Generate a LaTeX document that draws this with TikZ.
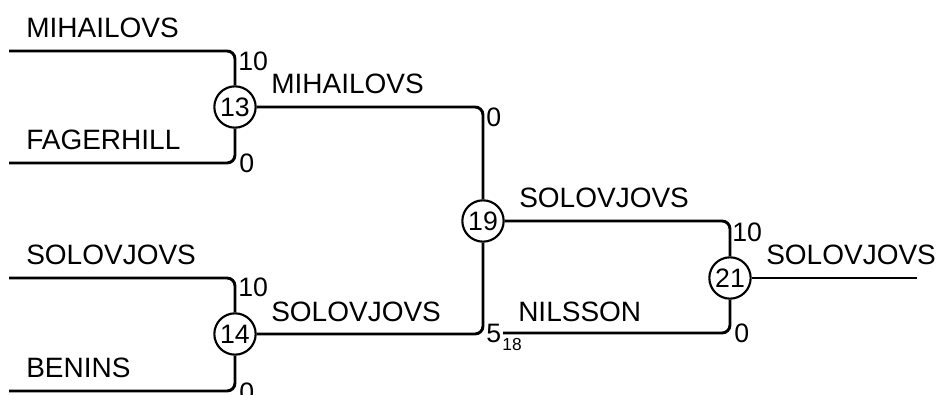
\documentclass[tikz,border=0pt]{standalone}
\usepackage{fontspec}
\setmainfont{Liberation Sans}
\begin{document}
\begin{tikzpicture}[x=0.75pt,y=-0.75pt]
	\tikzstyle{wire} = [line width=2.2pt, rounded corners=6pt]
	\tikzstyle{game} = [draw, circle, line width=1.6pt, inner sep=0pt, minimum size=31pt, font=\fontsize{20}{20}\selectfont]
	\tikzstyle{player} = [anchor=base west, inner sep=0pt, font=\fontsize{21}{21}\selectfont]
	\tikzstyle{ptsup} = [anchor=north west, inner sep=0pt, font=\fontsize{20}{20}\selectfont]
	\tikzstyle{ptsdn} = [anchor=base west, inner sep=0pt, font=\fontsize{20}{20}\selectfont]
	\useasboundingbox (0,0) rectangle (939,395);

	% games
	\node[game] (g13) at (235,107) {13};
	\node[game] (g14) at (235,334) {14};
	\node[game] (g19) at (483,221) {19};
	\node[game] (g21) at (730,278) {21};

	% first round entries
	\coordinate (mih) at (9,51);
	\coordinate (fag) at (9,163);
	\coordinate (sol) at (9,278);
	\coordinate (ben) at (9,391);
	\coordinate (nil) at (503,333);
	\coordinate (win) at (917,278);

	\draw[wire] (mih) -| (g13);
	\draw[wire] (fag) -| (g13);
	\draw[wire] (sol) -| (g14);
	\draw[wire] (ben) -| (g14);
	\draw[wire] (g13) -| (g19);
	\draw[wire] (g14) -| (g19);
	\draw[wire] (g19) -| (g21);
	\draw[wire] (nil) -| (g21);
	\draw[wire] (g21) -- (win);

	% names
	\node[player] (nmih) at (26,38) {MIHAILOVS};
	\node[player] (nfag) at (26,150) {FAGERHILL};
	\node[player] (nsol) at (26,265) {SOLOVJOVS};
	\node[player] (nben) at (26,378) {BENINS};
	\node[player] (w13) at (271,94) {MIHAILOVS};
	\node[player] (w14) at (271,321) {SOLOVJOVS};
	\node[player] (w19) at (519,208) {SOLOVJOVS};
	\node[player] (nnil) at (518,321) {NILSSON};
	\node[player] (w21) at (766,265) {SOLOVJOVS};

	% scores
	\node[ptsup] (s13a) at (238,52) {10};
	\node[ptsdn] (s13b) at (239,173) {0};
	\node[ptsup] (s14a) at (238,278) {10};
	\node[ptsdn] (s14b) at (239,401) {0};
	\node[ptsup] (s19a) at (486,108) {0};
	\node[ptsdn] (s19b) at (486,343) {5\hspace{1pt}\raisebox{-5.5pt}{\fontsize{13}{13}\selectfont 18}};
	\node[ptsup] (s21a) at (732,223) {10};
	\node[ptsdn] (s21b) at (734,343) {0};
\end{tikzpicture}
\end{document}
